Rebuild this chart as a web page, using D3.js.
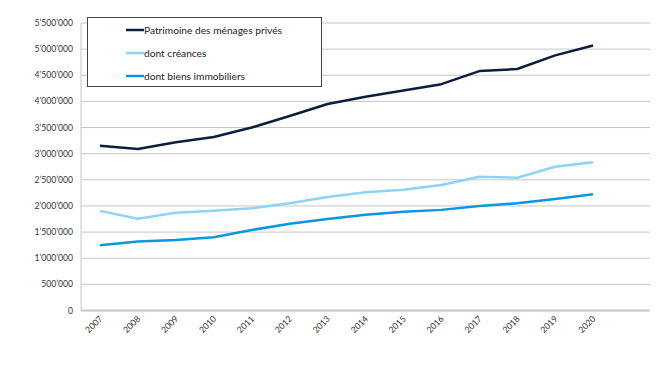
<!DOCTYPE html>
<html><head><meta charset="utf-8">
<script src="https://cdn.jsdelivr.net/npm/d3@7"></script>
<style>body{margin:0;background:#fff}svg{display:block}</style>
</head><body>
<svg id="c" width="670" height="377"></svg>
<script>
const years = ["2007","2008","2009","2010","2011","2012","2013","2014","2015","2016","2017","2018","2019","2020"];
const patrimoine = [3150000,3090000,3220000,3320000,3500000,3720000,3950000,4090000,4210000,4330000,4580000,4620000,4880000,5070000];
const creances = [1906000,1755000,1870000,1910000,1955000,2050000,2170000,2260000,2310000,2400000,2560000,2540000,2750000,2835000];
const immobiliers = [1250000,1320000,1350000,1400000,1540000,1660000,1750000,1830000,1890000,1925000,2000000,2050000,2135000,2225000];
const yTicks = [0,500000,1000000,1500000,2000000,2500000,3000000,3500000,4000000,4500000,5000000,5500000];
const seriesNames = ["Patrimoine des ménages privés","dont créances","dont biens immobiliers"];
const seriesColors = ["#0b1e3c","#8fd3f2","#0a97e0"];

const svg = d3.select("#c");
const L = 81, R = 650, T = 23, B = 310.5;
const slots = years.concat([""]);
const x = d3.scalePoint().domain(slots).range([L, R]).padding(0.5);
const y = d3.scaleLinear().domain([0, 5500000]).range([B, T]);
const font = "Lato, 'Open Sans', sans-serif";
const fmt = v => d3.format(",")(v).replace(/,/g, "’");

svg.append("g").selectAll("line").data(yTicks.filter(d => d > 0)).join("line")
  .attr("x1", L).attr("x2", R).attr("y1", d => y(d)).attr("y2", d => y(d))
  .attr("stroke", "#c6c6c6").attr("stroke-width", 1);

svg.append("line").attr("x1", L).attr("x2", L).attr("y1", T).attr("y2", B)
  .attr("stroke", "#c6c6c6").attr("stroke-width", 1);
svg.append("line").attr("x1", L).attr("x2", R).attr("y1", B).attr("y2", B)
  .attr("stroke", "#c6c6c6").attr("stroke-width", 2);

svg.append("g").selectAll("text").data(yTicks).join("text")
  .attr("x", 73).attr("y", d => y(d)).attr("dy", "0.35em")
  .attr("text-anchor", "end").attr("font-family", font).attr("font-size", 8.6)
  .attr("fill", "#333").text(d => fmt(d));

svg.append("g").selectAll("text").data(years).join("text")
  .attr("transform", d => `translate(${x(d) + 3},${B + 9}) rotate(-45)`)
  .attr("text-anchor", "end").attr("font-family", font).attr("font-size", 8.6)
  .attr("fill", "#333").text(d => d);

const line = d3.line().x((d, i) => x(years[i])).y(d => y(d));
[patrimoine, creances, immobiliers].forEach((s, k) => {
  svg.append("path").datum(s).attr("d", line).attr("fill", "none")
    .attr("stroke", seriesColors[k]).attr("stroke-width", 2.5)
    .attr("stroke-linejoin", "round");
});

svg.append("rect").attr("x", 87.5).attr("y", 17.5).attr("width", 234).attr("height", 69)
  .attr("fill", "#fff").attr("stroke", "#444").attr("stroke-width", 1);
const ly = [30, 53, 76];
seriesNames.forEach((n, k) => {
  svg.append("line").attr("x1", 126).attr("x2", 144).attr("y1", ly[k]).attr("y2", ly[k])
    .attr("stroke", seriesColors[k]).attr("stroke-width", 2.5);
  svg.append("text").attr("x", 144).attr("y", ly[k]).attr("dy", "0.35em")
    .attr("font-family", font).attr("font-size", 10.2).attr("fill", "#222").text(n);
});
</script>
</body></html>
